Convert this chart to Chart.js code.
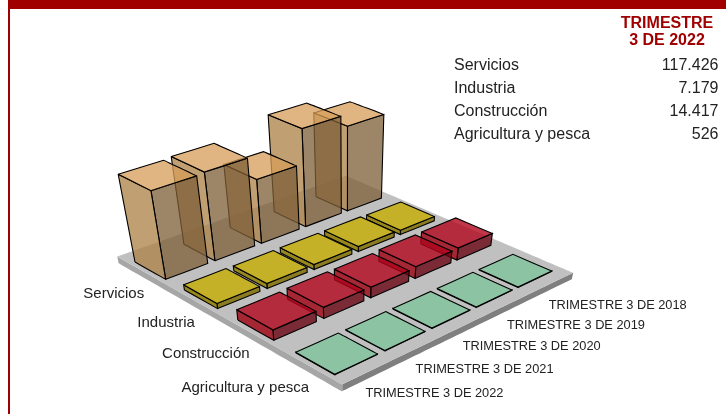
<!DOCTYPE html>
<html>
<head>
<meta charset="utf-8">
<title>Trimestre 3 de 2022</title>
<script src="https://cdn.jsdelivr.net/npm/chart.js@4/dist/chart.umd.min.js"></script>
<style>
  html, body { margin: 0; padding: 0; background: #fff; }
  #wrap { position: relative; width: 726px; height: 414px; overflow: hidden; }
  #wrap:before { content: ''; position: absolute; left: 8px; right: 0; top: 0; height: 9px; background: #a00000; }
  #wrap:after { content: ''; position: absolute; left: 8px; width: 2px; top: 0; bottom: 0; background: #a00000; }
  canvas { position: absolute; left: 0; top: 0; }
</style>
</head>
<body>
<div id="wrap"><canvas id="chart" width="726" height="414"></canvas></div>
<script>
// Data, each list runs 2022, 2021, 2020, 2019, 2018
const periods = ['TRIMESTRE 3 DE 2022', 'TRIMESTRE 3 DE 2021', 'TRIMESTRE 3 DE 2020', 'TRIMESTRE 3 DE 2019', 'TRIMESTRE 3 DE 2018'];
const sectors = ['Servicios', 'Industria', 'Construcción', 'Agricultura y pesca'];
const servicios = [117426, 119000, 88500, 134000, 118500];
const industria = [7179, 7000, 7200, 7300, 6500];
const construccion = [14417, 15500, 15100, 16700, 17300];
const agricultura = [526, 560, 590, 600, 620];
const summaryValues = ['117.426', '7.179', '14.417', '526'];

const seriesBySector = [servicios, industria, construccion, agricultura];

// Face colours for each sector
const palette = [
  { top: 'rgba(216,158,90,0.76)', left: 'rgba(172,130,71,0.76)', right: 'rgba(126,95,57,0.76)', line: '#000' },
  { top: 'rgba(196,176,32,0.95)', left: 'rgba(150,132,20,0.95)', right: 'rgba(136,120,24,0.95)', line: '#000' },
  { top: 'rgba(175,5,27,0.8)', left: 'rgba(158,0,15,0.8)', right: 'rgba(105,5,17,0.8)', line: '#000' },
  { top: 'rgb(140,195,163)', left: 'rgb(110,160,130)', right: 'rgb(100,150,120)', line: '#000' }
];

// Perspective set-up: lattice of bar corners on the floor, plus where the verticals converge
const floorQuad = [[135, 262], [316, 196.7], [479, 270], [295.7, 352.7]];
const vanish = [347, 1370];
const heightScale = 6.25e-7;
const barU = 0.85, barW = 0.63;
const floorU = [-0.10, 5.08], floorW = [-0.27, 3.83];
const floorDepth = -9500;

function buildHomography(q) {
  const [x0, y0] = q[0], [x1, y1] = q[1], [x2, y2] = q[2], [x3, y3] = q[3];
  const dx1 = x1 - x2, dx2 = x3 - x2, sx = x0 - x1 + x2 - x3;
  const dy1 = y1 - y2, dy2 = y3 - y2, sy = y0 - y1 + y2 - y3;
  const den = dx1 * dy2 - dx2 * dy1;
  const g = (sx * dy2 - dx2 * sy) / den, h = (dx1 * sy - sx * dy1) / den;
  return [x1 - x0 + g * x1, x3 - x0 + h * x3, x0, y1 - y0 + g * y1, y3 - y0 + h * y3, y0, g, h];
}
const H = buildHomography(floorQuad);

// (u, w) floor position in lattice units, value = height
function project(u, w, value) {
  const s = u / 4, t = w / 3, c = -value * heightScale;
  const hx = H[0] * s + H[1] * t + H[2] + c * vanish[0];
  const hy = H[3] * s + H[4] * t + H[5] + c * vanish[1];
  const hw = H[6] * s + H[7] * t + 1 + c;
  return { x: hx / hw, y: hy / hw };
}

// tension just above 0 keeps Chart.js off its fast path, which collapses points sharing an x pixel
function face(points, fill, line) {
  const pts = points.map(p => project(p[0], p[1], p[2]));
  pts.push(pts[0]);
  return {
    type: 'scatter', showLine: true, data: pts, fill: 'shape', tension: 0.0001, pointRadius: 0,
    backgroundColor: fill, borderColor: line || 'transparent', borderWidth: line ? 1.1 : 0
  };
}

// Visible faces of one box
function boxFaces(u0, u1, w0, w1, base, top, colors) {
  const line = colors.line;
  return [
    face([[u0, w1, base], [u1, w1, base], [u1, w1, top], [u0, w1, top]], colors.right, line),
    face([[u0, w0, base], [u0, w1, base], [u0, w1, top], [u0, w0, top]], colors.left, line),
    face([[u0, w0, top], [u1, w0, top], [u1, w1, top], [u0, w1, top]], colors.top, line)
  ];
}

const faces = [];
// platform
faces.push(face([[floorU[0], floorW[0], floorDepth], [floorU[0], floorW[1], floorDepth], [floorU[0], floorW[1], 0], [floorU[0], floorW[0], 0]], '#a6a6a6'));
faces.push(face([[floorU[0], floorW[1], floorDepth], [floorU[1], floorW[1], floorDepth], [floorU[1], floorW[1], 0], [floorU[0], floorW[1], 0]], '#7f7f7f'));
faces.push(face([[floorU[0], floorW[0], 0], [floorU[1], floorW[0], 0], [floorU[1], floorW[1], 0], [floorU[0], floorW[1], 0]], '#c0c0c0'));

// older periods first so the nearer boxes sit over them
sectors.forEach((name, j) => {
  for (let i = periods.length - 1; i >= 0; i--) {
    faces.push(...boxFaces(i, i + barU, j, j + barW, 0, seriesBySector[j][i], palette[j]));
  }
});
faces.forEach((f, n) => { f.order = faces.length - n; });

const textPlugin = {
  id: 'textPlugin',
  afterDraw(chart) {
    const ctx = chart.ctx;
    ctx.save();
    ctx.textBaseline = 'middle';
    ctx.fillStyle = '#222';

    ctx.font = '15px "Liberation Sans"';
    ctx.textAlign = 'right';
    sectors.forEach((name, j) => {
      const p = project(0, j + 0.325, 0);
      ctx.fillText(name, p.x - 6.5, p.y + 23.5);
    });

    ctx.font = '12.8px "Liberation Sans"';
    ctx.textAlign = 'left';
    periods.forEach((name, i) => {
      const p = project(i, 3.65, 0);
      ctx.fillText(name, p.x + 29.5, p.y + 17.7);
    });

    ctx.font = '16px "Liberation Sans"';
    sectors.forEach((name, j) => {
      ctx.textAlign = 'left';
      ctx.fillText(name, 454, 65.5 + j * 23);
      ctx.textAlign = 'right';
      ctx.fillText(summaryValues[j], 718.5, 65.5 + j * 23);
    });

    ctx.fillStyle = '#a00000';
    ctx.font = 'bold 16px "Liberation Sans"';
    ctx.textAlign = 'center';
    ctx.fillText('TRIMESTRE', 667, 24);
    ctx.fillText('3 DE 2022', 667, 41);
    ctx.restore();
  }
};

new Chart(document.getElementById('chart'), {
  type: 'scatter',
  data: { datasets: faces },
  plugins: [textPlugin],
  options: {
    responsive: false,
    animation: false,
    layout: { padding: 0 },
    plugins: { legend: { display: false }, tooltip: { enabled: false } },
    scales: {
      x: { type: 'linear', min: 0, max: 726, display: false },
      y: { type: 'linear', min: 0, max: 414, reverse: true, display: false }
    }
  }
});
</script>
</body>
</html>
